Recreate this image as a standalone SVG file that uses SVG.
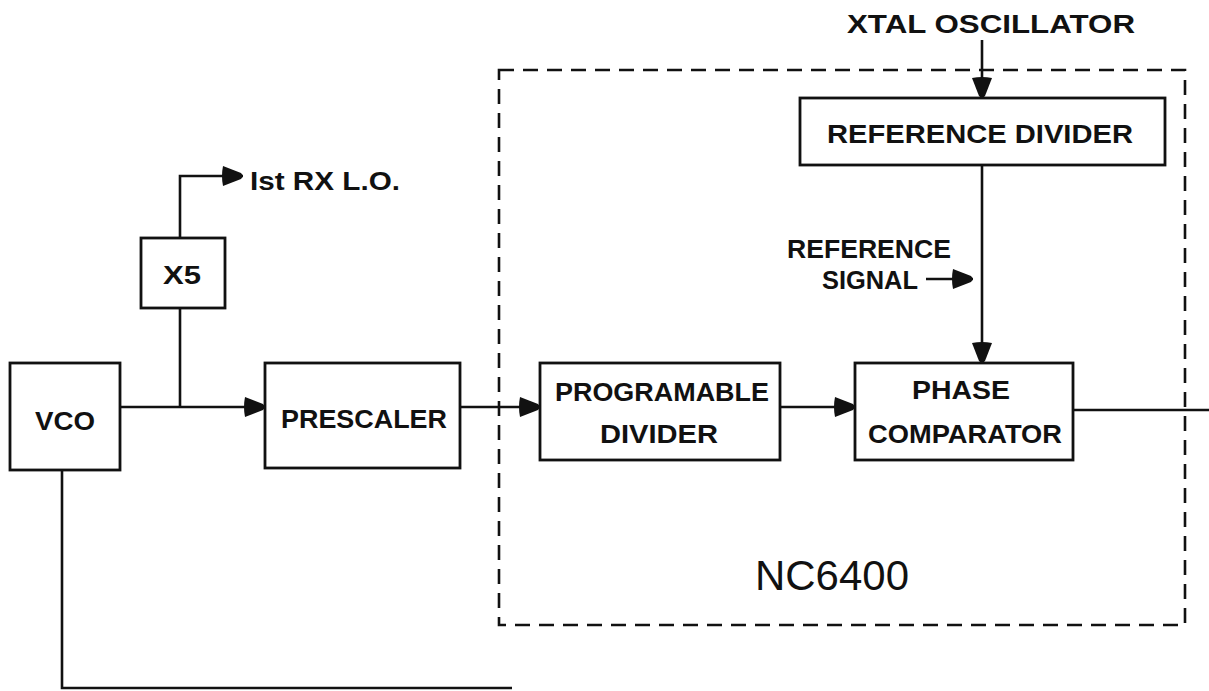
<svg xmlns="http://www.w3.org/2000/svg" width="1209" height="691" viewBox="0 0 1209 691">
<style>
.box{fill:#fff;stroke:#111;stroke-width:2.8}
.ln{fill:none;stroke:#111;stroke-width:2.6}
.t{font-family:"Liberation Sans",Arial,sans-serif;font-weight:bold;font-size:25px;fill:#111;text-anchor:middle}
.big{font-family:"Liberation Sans",Arial,sans-serif;font-size:42px;fill:#111;text-anchor:middle}
</style>
<defs>
<marker id="ah" markerUnits="userSpaceOnUse" markerWidth="30" markerHeight="30" refX="22" refY="11" orient="auto">
<path d="M2,1 Q0,11 2,21 L20,14 Q23,11 20,8 Z" fill="#111"/>
</marker>
</defs>
<rect width="1209" height="691" fill="#fff"/>
<rect x="499" y="70" width="686" height="555" fill="none" stroke="#111" stroke-width="2.6" stroke-dasharray="15,9"/>
<g id="connectors">
<path class="ln" d="M120,407 H265" marker-end="url(#ah)"/>
<path class="ln" d="M180,407 V308"/>
<path class="ln" d="M180,238 V176 H243" marker-end="url(#ah)"/>
<path class="ln" d="M460,407 H540" marker-end="url(#ah)"/>
<path class="ln" d="M780,407 H855" marker-end="url(#ah)"/>
<path class="ln" d="M1073,410 H1209"/>
<path class="ln" d="M982,40 V98" marker-end="url(#ah)"/>
<path class="ln" d="M982,165 V363" marker-end="url(#ah)"/>
<path class="ln" d="M926,279 H973" marker-end="url(#ah)"/>
<path class="ln" d="M62,470 V688 H512"/>
</g>
<g id="vco"><rect class="box" x="10" y="363" width="110" height="107"/><text class="t" x="65" y="430" textLength="60" lengthAdjust="spacingAndGlyphs">VCO</text></g>
<g id="x5"><rect class="box" x="141" y="238" width="84" height="70"/><text class="t" x="182" y="284" textLength="38" lengthAdjust="spacingAndGlyphs">X5</text></g>
<g id="lo"><text class="t" x="250" y="190" textLength="150" lengthAdjust="spacingAndGlyphs" style="text-anchor:start">Ist RX L.O.</text></g>
<g id="prescaler"><rect class="box" x="265" y="363" width="195" height="105"/><text class="t" x="364" y="428" textLength="166" lengthAdjust="spacingAndGlyphs">PRESCALER</text></g>
<g id="progdiv"><rect class="box" x="540" y="363" width="240" height="97"/><text class="t" x="662" y="401" textLength="214" lengthAdjust="spacingAndGlyphs">PROGRAMABLE</text><text class="t" x="659" y="443" textLength="118" lengthAdjust="spacingAndGlyphs">DIVIDER</text></g>
<g id="phasecomp"><rect class="box" x="855" y="363" width="218" height="97"/><text class="t" x="961" y="399" textLength="98" lengthAdjust="spacingAndGlyphs">PHASE</text><text class="t" x="965" y="443" textLength="194" lengthAdjust="spacingAndGlyphs">COMPARATOR</text></g>
<g id="refdiv"><rect class="box" x="800" y="98" width="365" height="67"/><text class="t" x="980" y="143" textLength="306" lengthAdjust="spacingAndGlyphs">REFERENCE DIVIDER</text></g>
<g id="xtal"><text class="t" x="991" y="33" textLength="288" lengthAdjust="spacingAndGlyphs">XTAL OSCILLATOR</text></g>
<g id="refsig"><text class="t" x="869" y="258" textLength="164" lengthAdjust="spacingAndGlyphs">REFERENCE</text><text class="t" x="870" y="289" textLength="96" lengthAdjust="spacingAndGlyphs">SIGNAL</text></g>
<g id="nc6400"><text class="big" x="832" y="590" textLength="154" lengthAdjust="spacingAndGlyphs">NC6400</text></g>
</svg>
